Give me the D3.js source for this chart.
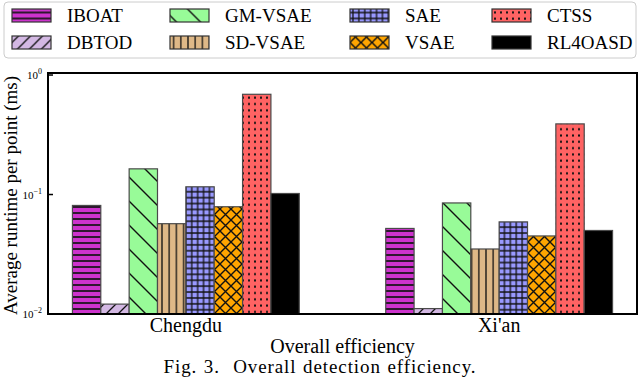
<!DOCTYPE html>
<html>
<head>
<meta charset="utf-8">
<script src="https://cdn.jsdelivr.net/npm/d3@7"></script>
<style>
    html, body { margin: 0; padding: 0; background: white; }
    svg { display: block; font-family: "Liberation Serif", "Times New Roman", serif; }
</style>
</head>
<body>
<svg id="chart" width="640" height="380"></svg>
<script>
const cities = ["Chengdu", "Xi'an"];
const methods = ["IBOAT", "DBTOD", "GM-VSAE", "SD-VSAE", "SAE", "VSAE", "CTSS", "RL4OASD"];
const runtime_chengdu = [0.081, 0.0121, 0.164, 0.057, 0.116, 0.079, 0.69, 0.102];
const runtime_xian = [0.052, 0.0111, 0.085, 0.035, 0.059, 0.045, 0.39, 0.050];
const y_ticks = [1, 0.1, 0.01];
const y_tick_exp = ["0", "\u22121", "\u22122"];

const fills = ["#cc33cc", "#d3b8e3", "#98fb98", "#deb887", "#9999ff", "#ffa500", "#ff6363", "#000000"];
const hatches = ["hline", "slash", "bslash", "vline", "plus", "cross", "dots", null];

const svg = d3.select("#chart");
const margin = {left: 48, right: 3, top: 73, bottom: 66};
const w = 640, h = 380;

// scales
const x = d3.scaleLinear()
    .domain([-0.44, 1.44])
    .range([margin.left, w - margin.right]);

const y = d3.scaleLog()
    .domain([0.01, 1.04])
    .range([h - margin.bottom, margin.top]);

const bar_w = 0.0905;

// hatch patterns
const defs = svg.append("defs");
const pat = (id, size_w, size_h, draw) => {
    const p = defs.append("pattern")
        .attr("id", id)
        .attr("patternUnits", "userSpaceOnUse")
        .attr("width", size_w)
        .attr("height", size_h);
    draw(p);
};
const hatch_stroke = s => s.attr("stroke", "#111").attr("fill", "none");

pat("hline", 6, 6, p => p.append("path").attr("d", "M0,3H6").call(hatch_stroke).attr("stroke-width", 1.7));
pat("slash", 12, 12, p => p.append("path").attr("d", "M0,12L12,0M-3,3L3,-3M9,15L15,9").call(hatch_stroke).attr("stroke-width", 1.3));
pat("bslash", 24, 24, p => p.append("path").attr("d", "M0,0L24,24M-6,18L6,30M18,-6L30,6").call(hatch_stroke).attr("stroke-width", 1.4));
pat("vline", 7.2, 6, p => p.append("path").attr("d", "M3.6,0V6").call(hatch_stroke).attr("stroke-width", 1.3));
pat("plus", 5.9, 5.9, p => p.append("path").attr("d", "M2.95,0V5.9M0,2.95H5.9").call(hatch_stroke).attr("stroke-width", 1.3));
pat("cross", 11, 11, p => p.append("path").attr("d", "M0,0L11,11M11,0L0,11").call(hatch_stroke).attr("stroke-width", 1.4));
pat("dots", 6, 6.3, p => p.append("rect").attr("x", 2).attr("y", 2.2).attr("width", 2).attr("height", 2).attr("fill", "#111"));

// bars
const rows = [];
cities.forEach((c, ci) => {
    const vals = ci === 0 ? runtime_chengdu : runtime_xian;
    vals.forEach((v, i) => rows.push({city: ci, i: i, value: v}));
});

const bars = svg.append("g").attr("class", "bars")
    .selectAll("g")
    .data(rows).enter()
    .append("g");

bars.append("rect")
    .attr("x", d => x(d.city + (d.i - 4) * bar_w))
    .attr("y", d => y(d.value))
    .attr("width", x(bar_w) - x(0))
    .attr("height", d => y(0.01) - y(d.value))
    .style("fill", d => fills[d.i]);

bars.filter(d => hatches[d.i])
    .append("rect")
    .attr("x", d => x(d.city + (d.i - 4) * bar_w))
    .attr("y", d => y(d.value))
    .attr("width", x(bar_w) - x(0))
    .attr("height", d => y(0.01) - y(d.value))
    .style("fill", d => `url(#${hatches[d.i]})`);

bars.append("rect")
    .attr("x", d => x(d.city + (d.i - 4) * bar_w))
    .attr("y", d => y(d.value))
    .attr("width", x(bar_w) - x(0))
    .attr("height", d => y(0.01) - y(d.value))
    .style("fill", "none")
    .style("stroke", "#4a4a4a")
    .style("stroke-width", 1.2);

// axis_y
const axis_y = svg.append("g").attr("class", "axis_y");
axis_y.selectAll("line")
    .data(y_ticks).enter()
    .append("line")
    .attr("x1", margin.left)
    .attr("x2", margin.left + 5)
    .attr("y1", d => y(d))
    .attr("y2", d => y(d))
    .style("stroke", "black")
    .style("stroke-width", 1.5);

const tick_txt = axis_y.selectAll("text")
    .data(y_ticks).enter()
    .append("text")
    .attr("x", 42)
    .attr("y", d => y(d) + 4)
    .attr("text-anchor", "end")
    .style("font-size", "11px");
tick_txt.append("tspan").text("10");
tick_txt.append("tspan")
    .attr("dy", -5)
    .style("font-size", "8px")
    .text((d, i) => y_tick_exp[i]);

// axis_x labels
svg.append("g").attr("class", "axis_x")
    .selectAll("text")
    .data(cities).enter()
    .append("text")
    .attr("x", (d, i) => x(i))
    .attr("y", 332)
    .attr("text-anchor", "middle")
    .style("font-size", "20px")
    .text(d => d);

// frame
svg.append("rect")
    .attr("x", margin.left)
    .attr("y", margin.top)
    .attr("width", w - margin.right - margin.left)
    .attr("height", y(0.01) - margin.top)
    .style("fill", "none")
    .style("stroke", "black")
    .style("stroke-width", 2);

// titles
svg.append("text")
    .attr("transform", `translate(17,${(margin.top + y(0.01)) / 2 + 2}) rotate(-90)`)
    .attr("text-anchor", "middle")
    .style("font-size", "19px")
    .text("Average runtime per point (ms)");

svg.append("text")
    .attr("x", x(0.5))
    .attr("y", 353)
    .attr("text-anchor", "middle")
    .style("font-size", "20px")
    .text("Overall efficiency");

svg.append("text")
    .attr("x", 320)
    .attr("y", 373)
    .attr("text-anchor", "middle")
    .style("font-size", "19px")
    .style("letter-spacing", "0.9px")
    .style("word-spacing", "1px")
    .attr("xml:space", "preserve")
    .text("Fig. 3.  Overall detection efficiency.");

// legend
const legend = svg.append("g").attr("class", "legend");
legend.append("rect")
    .attr("x", 4).attr("y", 2)
    .attr("width", 632).attr("height", 56)
    .attr("rx", 4)
    .style("fill", "white")
    .style("stroke", "#cccccc")
    .style("stroke-width", 1);

const col_x = [12, 170, 350, 492];
const row_y = [15.5, 42.5];
const items = legend.selectAll("g.item")
    .data(methods).enter()
    .append("g")
    .attr("class", "item")
    .attr("transform", (d, i) => `translate(${col_x[Math.floor(i / 2)]},${row_y[i % 2]})`);

items.append("rect")
    .attr("x", 0).attr("y", -6.5)
    .attr("width", 39).attr("height", 13)
    .style("fill", (d, i) => fills[i]);
items.filter((d, i) => hatches[i])
    .append("rect")
    .attr("x", 0).attr("y", -6.5)
    .attr("width", 39).attr("height", 13)
    .style("fill", (d, i) => `url(#${hatches[i]})`);
items.append("rect")
    .attr("x", 0).attr("y", -6.5)
    .attr("width", 39).attr("height", 13)
    .style("fill", "none")
    .style("stroke", "#333")
    .style("stroke-width", 1.2);
items.append("text")
    .attr("x", 55)
    .attr("y", 6.5)
    .style("font-size", "19px")
    .text(d => d);
</script>
</body>
</html>
